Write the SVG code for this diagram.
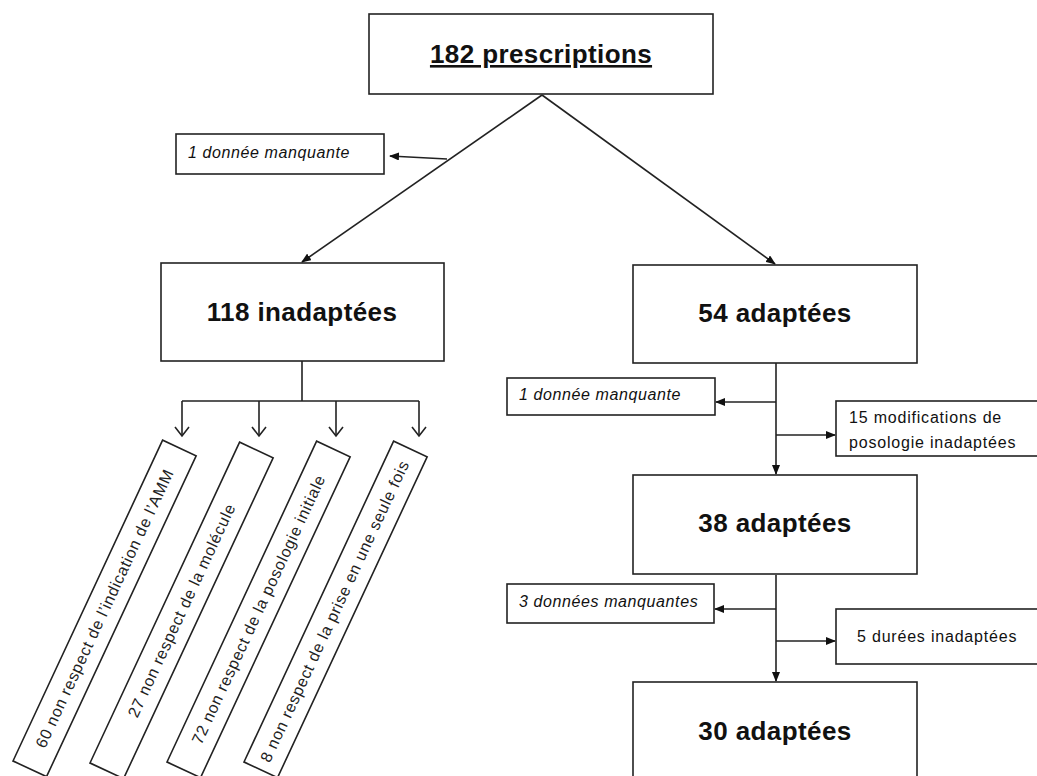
<svg xmlns="http://www.w3.org/2000/svg" width="1037" height="776" viewBox="0 0 1037 776">
<style>
.box{fill:#fff;stroke:#222;stroke-width:1.6}
.title{font-family:"Liberation Sans",Arial,sans-serif;font-weight:bold;font-size:26px;letter-spacing:0.4px;fill:#111;text-anchor:middle}
.note{font-family:"Liberation Sans",Arial,sans-serif;font-style:italic;font-size:16px;letter-spacing:0.6px;fill:#111}
.lab{font-family:"Liberation Sans",Arial,sans-serif;font-size:16px;letter-spacing:0.8px;fill:#111}
.rot{font-family:"Liberation Sans",Arial,sans-serif;font-size:16px;letter-spacing:0.7px;fill:#222;text-anchor:middle}
.ln{fill:none;stroke:#222;stroke-width:1.6}
</style>
<defs>
<marker id="ah" markerUnits="userSpaceOnUse" markerWidth="10" markerHeight="8" refX="9" refY="4" orient="auto"><path d="M0,0 L10,4 L0,8 z" fill="#111"/></marker>
<marker id="av" markerUnits="userSpaceOnUse" markerWidth="12" markerHeight="16" refX="10" refY="8" orient="auto"><path d="M1,1 L10,8 L1,15" fill="none" stroke="#222" stroke-width="1.6"/></marker>
</defs>
<rect width="1037" height="776" fill="#fff"/>

<g id="connectors">
<path class="ln" d="M542,95 L302,262" marker-end="url(#ah)"/>
<path class="ln" d="M542,95 L775,264" marker-end="url(#ah)"/>
<path class="ln" d="M447,159 L390,156" marker-end="url(#ah)"/>
<path class="ln" d="M302,361 L302,401 M182,401 L419,401"/>
<path class="ln" d="M182,401 L182,436" marker-end="url(#av)"/>
<path class="ln" d="M259,401 L259,436" marker-end="url(#av)"/>
<path class="ln" d="M336,401 L336,436" marker-end="url(#av)"/>
<path class="ln" d="M419,401 L419,436" marker-end="url(#av)"/>
<path class="ln" d="M776,363 L776,474" marker-end="url(#ah)"/>
<path class="ln" d="M776,402 L716,402" marker-end="url(#ah)"/>
<path class="ln" d="M776,435 L835,435" marker-end="url(#ah)"/>
<path class="ln" d="M776,575 L776,681" marker-end="url(#ah)"/>
<path class="ln" d="M776,609 L715,609" marker-end="url(#ah)"/>
<path class="ln" d="M776,641 L835,641" marker-end="url(#ah)"/>
</g>

<g id="n182">
<rect class="box" x="369" y="14" width="344" height="80"/>
<text class="title" x="541" y="63" text-decoration="underline">182 prescriptions</text>
</g>
<g id="miss1">
<rect class="box" x="176" y="134" width="208" height="40"/>
<text class="note" x="188" y="158">1 donnée manquante</text>
</g>
<g id="n118">
<rect class="box" x="161" y="263" width="283" height="98"/>
<text class="title" x="302" y="321">118 inadaptées</text>
</g>
<g id="n54">
<rect class="box" x="633" y="265" width="284" height="98"/>
<text class="title" x="775" y="322">54 adaptées</text>
</g>
<g id="r1" transform="translate(13,761) rotate(-65)">
<rect class="box" x="0" y="0" width="354" height="37"/>
<text class="rot" x="177" y="24">60 non respect de l’indication de l’AMM</text>
</g>
<g id="r2" transform="translate(90,763) rotate(-65)">
<rect class="box" x="0" y="0" width="354" height="37"/>
<text class="rot" x="177" y="24">27 non respect de la molécule</text>
</g>
<g id="r3" transform="translate(167,762) rotate(-65)">
<rect class="box" x="0" y="0" width="354" height="37"/>
<text class="rot" x="177" y="24">72 non respect de la posologie initiale</text>
</g>
<g id="r4" transform="translate(244,762) rotate(-65)">
<rect class="box" x="0" y="0" width="354" height="37"/>
<text class="rot" x="175" y="24">8 non respect de la prise en une seule fois</text>
</g>
<g id="miss2">
<rect class="box" x="507" y="378" width="208" height="37"/>
<text class="note" x="519" y="400">1 donnée manquante</text>
</g>
<g id="modif">
<rect class="box" x="836" y="401" width="220" height="55"/>
<text class="lab" x="849" y="423">15 modifications de</text>
<text class="lab" x="849" y="448">posologie inadaptées</text>
</g>
<g id="n38">
<rect class="box" x="633" y="475" width="284" height="99"/>
<text class="title" x="775" y="532">38 adaptées</text>
</g>
<g id="miss3">
<rect class="box" x="507" y="584" width="207" height="39"/>
<text class="note" x="519" y="607">3 données manquantes</text>
</g>
<g id="durees">
<rect class="box" x="836" y="609" width="220" height="55"/>
<text class="lab" x="857" y="642">5 durées  inadaptées</text>
</g>
<g id="n30">
<rect class="box" x="633" y="682" width="284" height="110"/>
<text class="title" x="775" y="740">30 adaptées</text>
</g>
</svg>
